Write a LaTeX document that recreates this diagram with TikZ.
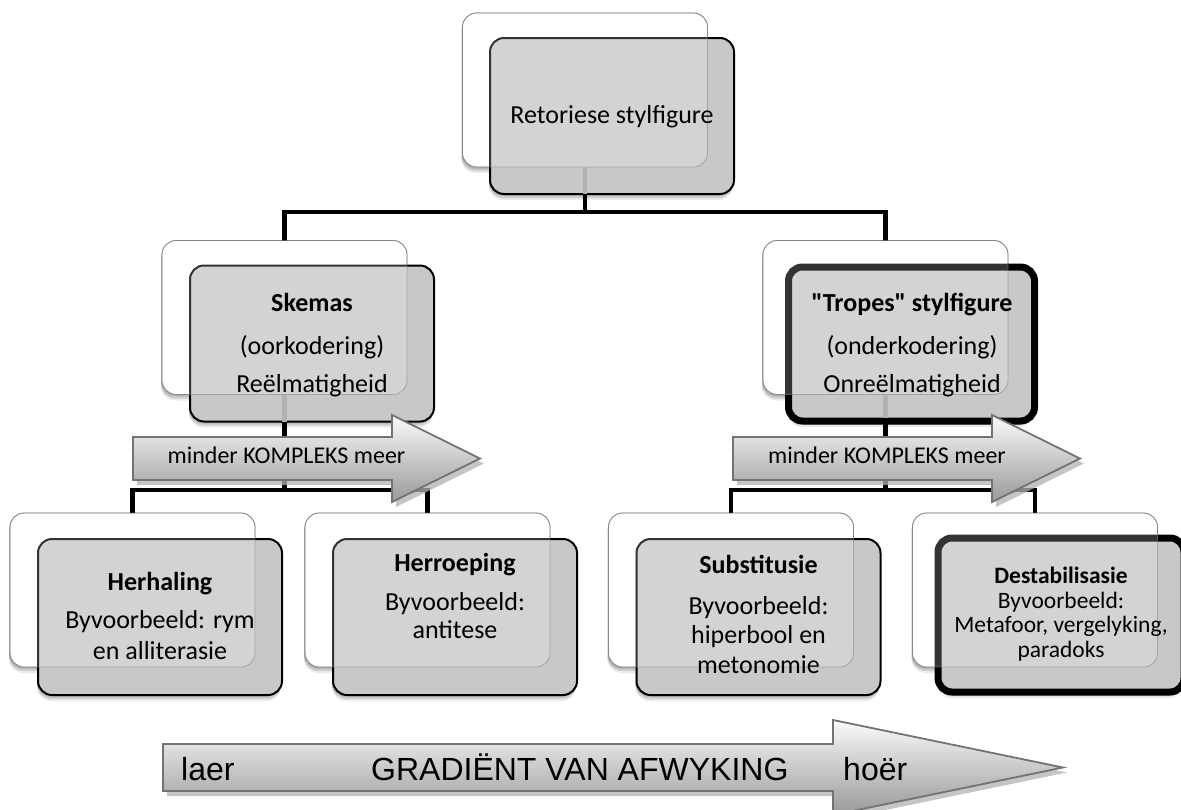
\documentclass[tikz,border=0pt]{standalone}
\usepackage{fontspec}
\setmainfont{Carlito}
% a Carlito family without TeX ligatures, so that " stays a straight quote
\newfontfamily\plaincarlito{Carlito}
\newfontfamily\arialfont{Liberation Sans}
\usetikzlibrary{shadows}

\definecolor{boxgrey}{RGB}{200,200,200}
\definecolor{edgegrey}{RGB}{130,130,130}
\definecolor{ghostgrey}{RGB}{178,178,178}
\definecolor{arrowedge}{RGB}{115,115,115}

\tikzset{
  softshadow/.style={
    drop shadow={shadow xshift=-1pt, shadow yshift=-2pt, opacity=0.12, fill=black},
    drop shadow={shadow xshift=-1pt, shadow yshift=-4pt, opacity=0.12, fill=black},
    drop shadow={shadow xshift=-1pt, shadow yshift=-6pt, opacity=0.08, fill=black}},
  backbox/.style={draw=edgegrey, line width=0.8pt, fill=white, rounded corners=14pt,
    minimum width=245pt, minimum height=154pt, inner sep=0pt, outer sep=0pt, softshadow},
  frontbox/.style={draw=black, line width=2pt, fill=boxgrey, rounded corners=14pt,
    minimum width=244pt, minimum height=156pt, inner sep=0pt, outer sep=0pt, softshadow},
  strongbox/.style={frontbox, line width=7pt, minimum width=246pt, minimum height=154pt},
  veil/.style={fill=white, fill opacity=0.2, draw=edgegrey, draw opacity=0.55,
    line width=0.8pt, rounded corners=14pt},
  bus/.style={draw=black, line width=4.5pt},
  ghostline/.style={draw=ghostgrey, line width=4.5pt},
  arrowbody/.style={draw=arrowedge, line width=1.8pt, top color=black!2,
    bottom color=black!40, line join=miter},
  arrowshadow/.style={fill=black!30, opacity=0.75},
  boxtext/.style={align=center, inner sep=0pt, font=\fontsize{26}{31}\selectfont},
  arrowtext/.style={inner sep=0pt, anchor=base, font=\fontsize{24}{28}\selectfont},
  gradtext/.style={inner sep=0pt, anchor=base west, font=\arialfont\fontsize{32}{36}\selectfont}
}

\begin{document}
\begin{tikzpicture}[x=1pt,y=-1pt]
\useasboundingbox (0,0) rectangle (1181,809);

% junction points of the connector buses
\coordinate (jT) at (585,212);
\coordinate (jL) at (284.5,490);
\coordinate (jR) at (885.5,490);

% back (white) cards
\node[backbox] (wT) at (585,90) {};
\node[backbox] (wL) at (284.5,317.5) {};
\node[backbox] (wR) at (885.5,317.5) {};
\node[backbox] (w1) at (132.5,590) {};
\node[backbox] (w2) at (427.5,590) {};
\node[backbox] (w3) at (731,590) {};
\node[backbox] (w4) at (1035,590) {};

% connectors
\draw[bus] (wT.south) -- (jT);
\draw[bus] (wL.north) |- (jT) -| (wR.north);
\draw[bus] (wL.south) -- (jL);
\draw[bus] (w1.north) |- (jL) -| (w2.north);
\draw[bus] (wR.south) -- (jR);
\draw[bus] (w3.north) |- (jR) -| (w4.north);

% front (grey) cards
\node[frontbox] (gT) at (612,116) {};
\node[frontbox] (gL) at (312,343.5) {};
\node[strongbox] (gR) at (911.5,344) {};
\node[frontbox] (g1) at (160,617) {};
\node[frontbox] (g2) at (455,617) {};
\node[frontbox] (g3) at (758.5,617) {};
\node[strongbox] (g4) at (1061,615) {};

% translucent back cards showing through
\foreach \w in {wT,wL,wR,w1,w2,w3,w4}
  \path[veil] (\w.north west) rectangle (\w.south east);

% connector parts seen through the grey cards
\draw[ghostline] (wT.south) -- (wT.south |- gT.south);
\draw[ghostline] (wL.south) -- (wL.south |- gL.south);
\draw[ghostline] (wR.south) -- ([yshift=3.5pt]wR.south |- gR.south);

% complexity arrows
\foreach \dx in {0,600} {
  \begin{scope}[shift={(\dx,0)}]
    \path[arrowshadow, shift={(4,5)}]
      (133,437) -- (392,437) -- (392,415) -- (480,458.5) -- (392,502) -- (392,480) -- (133,480) -- cycle;
    \path[arrowbody]
      (133,437) -- (392,437) -- (392,415) -- (480,458.5) -- (392,502) -- (392,480) -- (133,480) -- cycle;
  \end{scope}
}

% gradient arrow
\path[arrowshadow, shift={(4,5)}]
  (163,744) -- (833,744) -- (833,720) -- (1063,767.5) -- (833,815) -- (833,791) -- (163,791) -- cycle;
\path[arrowbody]
  (163,744) -- (833,744) -- (833,720) -- (1063,767.5) -- (833,815) -- (833,791) -- (163,791) -- cycle;

% texts
\node[boxtext] (tT) at (612,117) {Retoriese stylfigure};
\node[boxtext, font=\fontsize{26}{38}\selectfont] (tL) at (312,345.2)
  {{\bfseries Skemas}\\[5pt](oorkodering)\\Reëlmatigheid};
\node[boxtext, font=\fontsize{26}{38}\selectfont] (tR) at (912,345)
  {{\plaincarlito\bfseries "Tropes" stylfigure}\\[5pt](onderkodering)\\Onreëlmatigheid};
\node[boxtext] (t1) at (160,616.4)
  {{\bfseries Herhaling}\\[7pt]Byvoorbeeld: rym\\en alliterasie};
\node[boxtext, font=\fontsize{26}{28}\selectfont] (t2) at (455,595.5)
  {{\bfseries Herroeping}\\[11pt]Byvoorbeeld:\\antitese};
\node[boxtext, font=\fontsize{26}{29.5}\selectfont] (t3) at (758.5,614.4)
  {{\bfseries Substitusie}\\[11.5pt]Byvoorbeeld:\\hiperbool en\\metonomie};
\node[boxtext, font=\fontsize{23.5}{24.7}\selectfont] (t4) at (1061,614.1)
  {{\bfseries Destabilisasie}\\Byvoorbeeld:\\Metafoor, vergelyking,\\paradoks};

\node[arrowtext] (kL) at (286.5,463) {minder KOMPLEKS meer};
\node[arrowtext] (kR) at (887,463) {minder KOMPLEKS meer};

\node[gradtext] (lo) at (181,780) {laer};
\node[gradtext] (gr) at (371,780) {GRADIËNT VAN AFWYKING};
\node[gradtext] (hi) at (843,780) {hoër};
\end{tikzpicture}
\end{document}
